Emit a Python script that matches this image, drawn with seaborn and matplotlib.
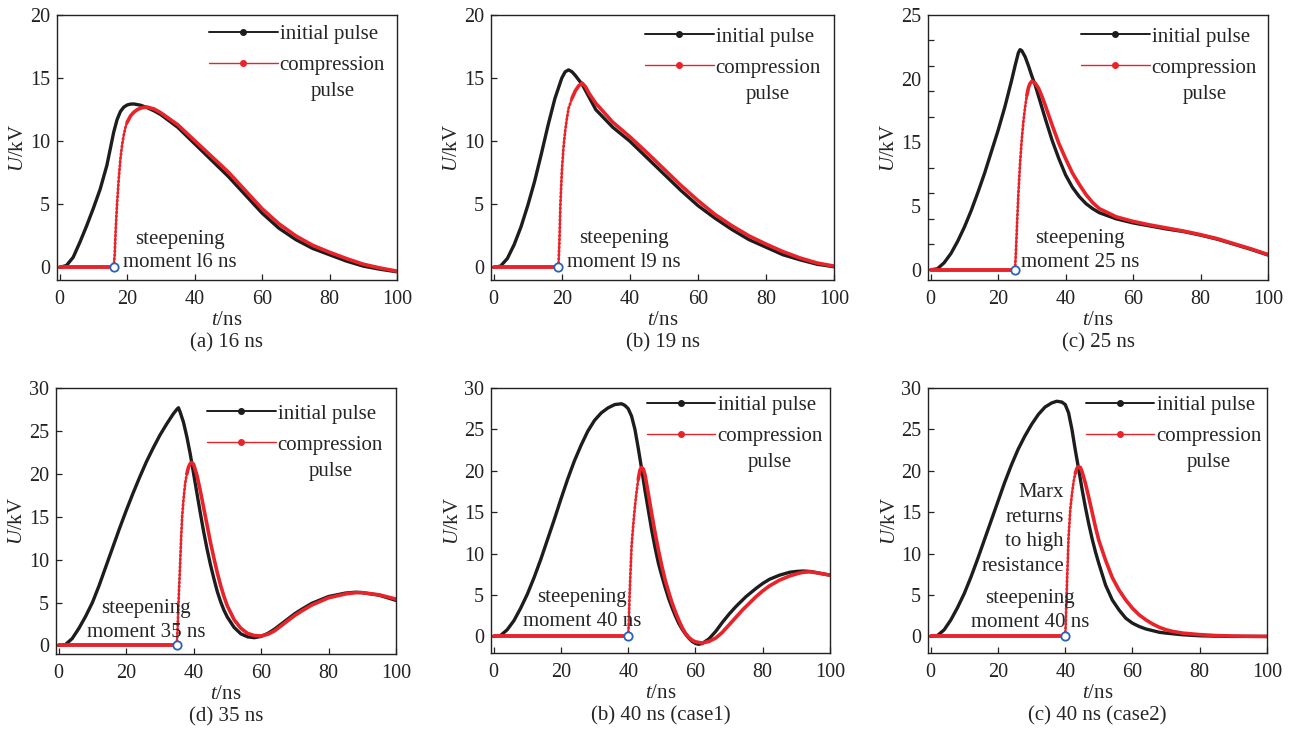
import numpy as np
import matplotlib
matplotlib.use("Agg")
import matplotlib.pyplot as plt
from matplotlib.lines import Line2D
import seaborn as sns

sns.set_style("ticks")
plt.rcParams["font.family"] = ["Liberation Serif", "DejaVu Serif"]
plt.rcParams["mathtext.fontset"] = "custom"
plt.rcParams["mathtext.rm"] = "Liberation Serif"
plt.rcParams["mathtext.it"] = "Liberation Serif:italic"

# ---- data (t in ns, U in kV) ----
ta_black = [0, 2, 4, 6, 8, 10, 12, 14, 15, 16, 17, 18, 19, 20, 21, 22, 24, 26, 28, 30, 35, 40,
            45, 50, 55, 60, 65, 70, 75, 80, 85, 90, 95, 100]
ua_black = [0, 0.15, 0.8, 2.0, 3.3, 4.7, 6.2, 8.1, 9.4, 10.7, 11.7, 12.35, 12.7, 12.87, 12.94,
            12.95, 12.85, 12.65, 12.4, 12.1, 11.1, 9.8, 8.5, 7.2, 5.75, 4.3, 3.1, 2.2, 1.5, 1.0,
            0.5, 0.1, -0.15, -0.35]
ta_red = [0, 16, 16.3, 16.6, 17, 17.5, 18, 18.5, 19, 19.5, 20, 21, 22, 23, 24, 25, 26, 28, 30, 35,
          40, 45, 50, 55, 60, 65, 70, 75, 80, 85, 90, 95, 100]
ua_red = [0, 0, 1.0, 3.0, 5.0, 7.0, 8.6, 9.7, 10.5, 11.1, 11.5, 12.0, 12.3, 12.5, 12.62, 12.68,
          12.7, 12.55, 12.25, 11.3, 10.05, 8.8, 7.55, 6.1, 4.65, 3.45, 2.5, 1.75, 1.2, 0.7,
          0.25, -0.05, -0.3]

tb_black = [0, 2, 4, 6, 8, 10, 12, 14, 16, 18, 20, 21, 22, 23, 24, 26, 27, 28, 30, 35,
            40, 45, 50, 55, 60, 65, 70, 75, 80, 85, 90, 95, 100]
ub_black = [0, 0.1, 0.7, 1.8, 3.2, 4.9, 6.8, 9.0, 11.3, 13.4, 15.0, 15.5, 15.65, 15.5, 15.2,
            14.5, 14.0, 13.5, 12.5, 11.1, 10.0, 8.7, 7.4, 6.1, 4.9, 3.9, 3.0, 2.2, 1.6, 1.0,
            0.6, 0.25, 0.05]
tb_red = [0, 19, 19.3, 19.6, 20, 20.5, 21, 21.5, 22, 23, 24, 25, 26, 27, 28, 30, 35, 40, 45, 50,
          55, 60, 65, 70, 75, 80, 85, 90, 95, 100]
ub_red = [0, 0, 2.0, 5.0, 7.5, 9.5, 10.8, 11.8, 12.6, 13.4, 14.0, 14.4, 14.6, 14.3, 13.8, 13.0,
          11.5, 10.35, 9.1, 7.8, 6.5, 5.3, 4.2, 3.3, 2.5, 1.85, 1.25, 0.75, 0.35, 0.1]

tc_black = [0, 2, 4, 6, 8, 10, 12, 14, 16, 18, 20, 22, 24, 25, 26, 26.5, 27, 28, 29, 30,
            31, 32, 33, 34, 36, 38, 40, 42, 44, 46, 48, 50, 55, 60, 65, 70, 75, 80, 85, 90,
            95, 100]
uc_black = [0, 0.1, 0.7, 1.6, 2.8, 4.2, 5.8, 7.6, 9.5, 11.6, 13.7, 16.0, 18.6, 20.0, 21.3, 21.6,
            21.5, 20.9, 20.0, 19.0, 18.1, 17.0, 15.9, 14.8, 12.7, 10.9, 9.3, 8.1, 7.2, 6.5,
            6.0, 5.6, 5.0, 4.6, 4.3, 4.0, 3.75, 3.4, 3.0, 2.5, 2.0, 1.45]
tc_red = [0, 25, 25.3, 25.6, 26, 26.5, 27, 27.5, 28, 28.5, 29, 29.5, 30, 31, 32, 33, 34, 36, 38,
          40, 42, 44, 46, 48, 50, 55, 60, 65, 70, 75, 80, 85, 90, 95, 100]
uc_red = [0, 0, 2.0, 4.5, 7.5, 10.5, 12.8, 14.6, 16.0, 17.1, 17.9, 18.3, 18.5, 18.3, 17.8, 17.0,
          16.1, 14.2, 12.4, 10.9, 9.5, 8.4, 7.4, 6.6, 6.0, 5.2, 4.75, 4.4, 4.1, 3.8,
          3.45, 3.05, 2.55, 2.05, 1.5]

td_black = [0, 2, 4, 6, 8, 10, 12, 14, 16, 18, 20, 22, 24, 26, 28, 30, 32, 34, 35, 35.5,
            36, 37, 38, 39, 40, 41, 42, 43, 44, 45, 46, 47, 48, 49, 50, 52, 54, 56, 58, 60,
            62, 64, 66, 68, 70, 72, 75, 80, 85, 88, 90, 95, 100]
ud_black = [0, 0.1, 0.8, 2.0, 3.4, 5.0, 7.0, 9.2, 11.4, 13.6, 15.7, 17.7, 19.6, 21.4, 23.0, 24.5,
            25.8, 27.0, 27.5, 27.7, 27.2, 26.0, 24.3, 22.3, 20.0, 17.7, 15.4, 13.2, 11.2, 9.4,
            7.8, 6.3, 5.1, 4.1, 3.3, 2.1, 1.35, 1.0, 0.9, 1.05, 1.4, 1.9, 2.5, 3.1, 3.7, 4.2,
            4.9, 5.7, 6.1, 6.2, 6.15, 5.85, 5.25]
td_red = [0, 35, 35.2, 35.4, 35.6, 35.8, 36, 36.3, 36.6, 37, 37.5, 38, 38.5, 39, 39.5, 40, 41,
          42, 43, 44, 45, 46, 47, 48, 49, 50, 52, 54, 56, 58, 60, 62, 64, 66, 68, 70, 72, 75,
          80, 85, 88, 90, 95, 100]
ud_red = [0, 0, 1.5, 3.5, 5.8, 7.6, 9.5, 12.5, 15.0, 17.0, 18.9, 20.0, 20.8, 21.2, 21.3, 21.1,
          19.8, 18.0, 16.0, 14.0, 12.0, 10.2, 8.5, 7.0, 5.7, 4.6, 3.0, 2.0, 1.4, 1.15, 1.1,
          1.3, 1.7, 2.3, 2.9, 3.5, 4.0, 4.7, 5.55, 6.0, 6.15, 6.15, 5.9, 5.4]

te_black = [0, 2, 4, 6, 8, 10, 12, 14, 16, 18, 20, 22, 24, 26, 28, 30, 32, 34, 36, 38,
            39, 40, 41, 42, 43, 44, 45, 46, 47, 48, 49, 50, 51, 52, 53, 54, 55, 56, 57, 58,
            59, 60, 61, 62, 64, 66, 68, 70, 72, 75, 78, 80, 82, 85, 88, 90, 92, 94, 96, 98, 100]
ue_black = [0, 0.1, 0.8, 1.9, 3.4, 5.1, 7.1, 9.3, 11.7, 14.1, 16.6, 19.0, 21.2, 23.1, 24.8, 26.1,
            27.0, 27.6, 28.0, 28.1, 27.9, 27.5, 26.6, 25.0, 22.7, 20.2, 17.6, 15.2, 12.8, 10.7,
            8.8, 7.3, 5.9, 4.6, 3.5, 2.5, 1.6, 0.9, 0.3, -0.2, -0.6, -0.85, -0.95, -0.85, -0.3,
            0.6, 1.7, 2.7, 3.6, 4.8, 5.8, 6.4, 6.9, 7.4, 7.75, 7.85, 7.9, 7.85, 7.7, 7.55, 7.4]
te_red = [0, 40, 40.2, 40.4, 40.7, 41, 41.5, 42, 42.5, 43, 43.5, 44, 44.5, 45, 46, 47, 48, 49,
          50, 51, 52, 53, 54, 55, 56, 57, 58, 59, 60, 62, 64, 66, 68, 70, 72, 74, 76, 78, 80,
          82, 85, 88, 90, 92, 94, 96, 98, 100]
ue_red = [0, 0, 2.0, 4.9, 8.0, 10.9, 13.5, 15.7, 17.5, 19.0, 20.1, 20.4, 20.2, 19.5, 17.2, 14.8,
          12.5, 10.4, 8.5, 6.8, 5.4, 4.1, 3.0, 2.0, 1.1, 0.4, -0.1, -0.45, -0.65, -0.8, -0.6,
          -0.2, 0.5, 1.4, 2.3, 3.2, 4.0, 4.8, 5.5, 6.1, 6.8, 7.3, 7.55, 7.75, 7.8, 7.7, 7.55, 7.4]

tf_black = [0, 2, 4, 6, 8, 10, 12, 14, 16, 18, 20, 22, 24, 26, 28, 30, 32, 34, 36, 37.5,
            39, 40, 41, 42, 43, 44, 45, 46, 47, 48, 49, 50, 52, 54, 56, 58, 60, 62, 64, 66,
            68, 70, 75, 80, 85, 90, 95, 100]
uf_black = [0, 0.1, 0.8, 2.0, 3.5, 5.2, 7.2, 9.4, 11.7, 14.0, 16.3, 18.6, 20.7, 22.6, 24.2, 25.6,
            26.8, 27.7, 28.2, 28.4, 28.3, 28.0, 27.0, 25.0, 22.5, 20.2, 17.8, 15.6, 13.6, 11.8,
            10.2, 8.8, 6.2, 4.4, 3.2, 2.2, 1.6, 1.2, 0.9, 0.7, 0.5, 0.4, 0.2, 0.08, 0.03, 0.0,
            0.0, 0.0]
tf_red = [0, 40, 40.2, 40.4, 40.7, 41, 41.5, 42, 42.5, 43, 43.5, 44, 44.5, 45, 46, 47, 48, 49,
          50, 52, 54, 56, 58, 60, 62, 64, 66, 68, 70, 72, 75, 80, 85, 90, 95, 100]
uf_red = [0, 0, 2.0, 4.9, 8.5, 12.0, 15.3, 17.2, 18.7, 19.7, 20.3, 20.5, 20.4, 19.9, 18.5, 16.8,
          15.0, 13.2, 11.6, 9.2, 7.1, 5.6, 4.4, 3.4, 2.6, 2.0, 1.5, 1.1, 0.8, 0.6, 0.4, 0.22,
          0.1, 0.05, 0.02, 0.0]

steep_moment = [16, 19, 25, 35, 40, 40]
rise_end = [20, 23, 28.5, 38, 43, 43]
subtitles = ["(a) 16 ns", "(b) 19 ns", "(c) 25 ns", "(d) 35 ns", "(b) 40 ns (case1)",
             "(c) 40 ns (case2)"]
steep_notes = ["steepening\nmoment l6 ns", "steepening\nmoment l9 ns", "steepening\nmoment 25 ns",
               "steepening\nmoment 35 ns", "steepening\nmoment 40 ns", "steepening\nmoment 40 ns"]
xticks = [0, 20, 40, 60, 80, 100]

blacks = [(ta_black, ua_black), (tb_black, ub_black), (tc_black, uc_black),
          (td_black, ud_black), (te_black, ue_black), (tf_black, uf_black)]
reds = [(ta_red, ua_red), (tb_red, ub_red), (tc_red, uc_red),
        (td_red, ud_red), (te_red, ue_red), (tf_red, uf_red)]

# ---- layout (pixels: left, top, right, bottom) ----
W, H = 1297, 730
boxes_px = [(57, 15, 397, 280), (491, 15, 834, 280), (928, 15, 1268, 280),
            (56, 388, 396, 654), (491, 388, 830, 653), (928, 388, 1267, 653)]
ylims = [(-1, 20), (-1, 20), (-1, 25), (-1, 30), (-2, 30), (-2, 30)]
leg_anchor = [(0.965, 0.965), (0.962, 0.955), (0.968, 0.955),
              (0.962, 0.940), (0.979, 0.972), (0.985, 0.972)]
note_pos = [(35.5, 1.3), (38.2, 1.35), (44.2, 1.9), (26.0, 2.9), (26.3, 3.25), (29.5, 3.1)]

BLACK = "#1d1d1d"
RED = "#e8242a"
BLUE = "#2a62b8"

fig = plt.figure(figsize=(W / 100, H / 100), dpi=100)
legends = []

for i in range(6):
    l, t, r, b = boxes_px[i]
    ax = fig.add_axes([l / W, 1 - b / H, (r - l) / W, (b - t) / H])

    tb, ub = blacks[i]
    sns.lineplot(x=np.array(tb), y=np.array(ub), ax=ax, color=BLACK, lw=2.4,
                 estimator=None, sort=False)

    tr = np.array(reds[i][0], dtype=float)
    ur = np.array(reds[i][1], dtype=float)
    ts, tend = steep_moment[i], rise_end[i]
    pre = tr <= ts
    rise = (tr >= ts) & (tr <= tend)
    post = tr >= tend
    sns.lineplot(x=tr[pre], y=ur[pre], ax=ax, color=RED, lw=2.8, estimator=None, sort=False)
    sns.lineplot(x=tr[rise], y=ur[rise], ax=ax, color=RED, lw=0.9, estimator=None, sort=False)
    sns.lineplot(x=tr[rise], y=ur[rise], ax=ax, color=RED, lw=2.0, estimator=None, sort=False,
                 linestyle=(0, (0.5, 0.9)), dash_capstyle="round")
    sns.lineplot(x=tr[post], y=ur[post], ax=ax, color=RED, lw=2.6, estimator=None, sort=False)
    ax.plot(tr[pre][-1:], ur[pre][-1:], "o", mfc="white", mec=BLUE, ms=6, mew=1.3, zorder=6)

    ax.set_xlim(-0.8, 100)
    ax.set_ylim(*ylims[i])
    ax.set_xticks(xticks)
    if i == 2:
        # the original panel labels its y axis unevenly
        ax.set_yticks([0, 6.25, 12.5, 18.75, 25], ["0", "5", "15", "20", "25"])
        ax.set_yticks(np.arange(0, 25.01, 2.5), minor=True)
        ax.tick_params(axis="y", which="major", length=0)
        ax.tick_params(axis="y", which="minor", direction="in", length=4, width=0.9)
    else:
        ax.set_yticks(np.arange(0, ylims[i][1] + 0.1, 5))
        ax.tick_params(axis="y", direction="in", length=4, width=0.9)
    ax.tick_params(axis="x", direction="in", length=4, width=0.9, pad=7)
    ax.tick_params(axis="y", pad=5)
    ax.tick_params(labelsize=14.5, colors="#222222")
    for s in ax.spines.values():
        s.set_linewidth(1.0)
        s.set_color("#222222")

    ax.set_xlabel("$t$/ns", fontsize=15)
    ax.xaxis.set_label_coords(0.5, -0.152)
    ax.xaxis.label.set_va("center")
    ax.set_ylabel("$U$/kV", fontsize=15)
    ax.yaxis.set_label_coords(-0.112, 0.5)
    ax.yaxis.label.set_va("center")
    ax.text(0.5, -0.236, subtitles[i], transform=ax.transAxes, ha="center", va="center",
            fontsize=15)

    nx, ny = note_pos[i]
    ax.text(nx, ny, steep_notes[i], ha="center", va="center", fontsize=15, linespacing=1.33)
    if i == 5:
        ax.text(39.6, 12.9, "Marx\nreturns\nto high\nresistance", ha="right", va="center",
                multialignment="right", fontsize=15, linespacing=1.39)

    handles = [Line2D([], [], color=BLACK, lw=1.4, marker="o", ms=4),
               Line2D([], [], color=RED, lw=1.0, marker="o", ms=4)]
    leg = ax.legend(handles, ["initial pulse", "compression"], loc="upper right",
                    bbox_to_anchor=leg_anchor[i], frameon=False, fontsize=15,
                    handlelength=3.3, handletextpad=0.1, labelspacing=0.55,
                    borderpad=0, borderaxespad=0)
    legends.append((ax, leg))

# second line of the "compression pulse" label, centred under the first
fig.canvas.draw()
inv = fig.transFigure.inverted()
for ax, leg in legends:
    bb = leg.get_texts()[1].get_window_extent()
    cx, cy = inv.transform(((bb.x0 + bb.x1) / 2, (bb.y0 + bb.y1) / 2))
    fig.text(cx, cy - 26 / H, "pulse", ha="center", va="center", fontsize=15)

fig.savefig("out.png", dpi=100)
